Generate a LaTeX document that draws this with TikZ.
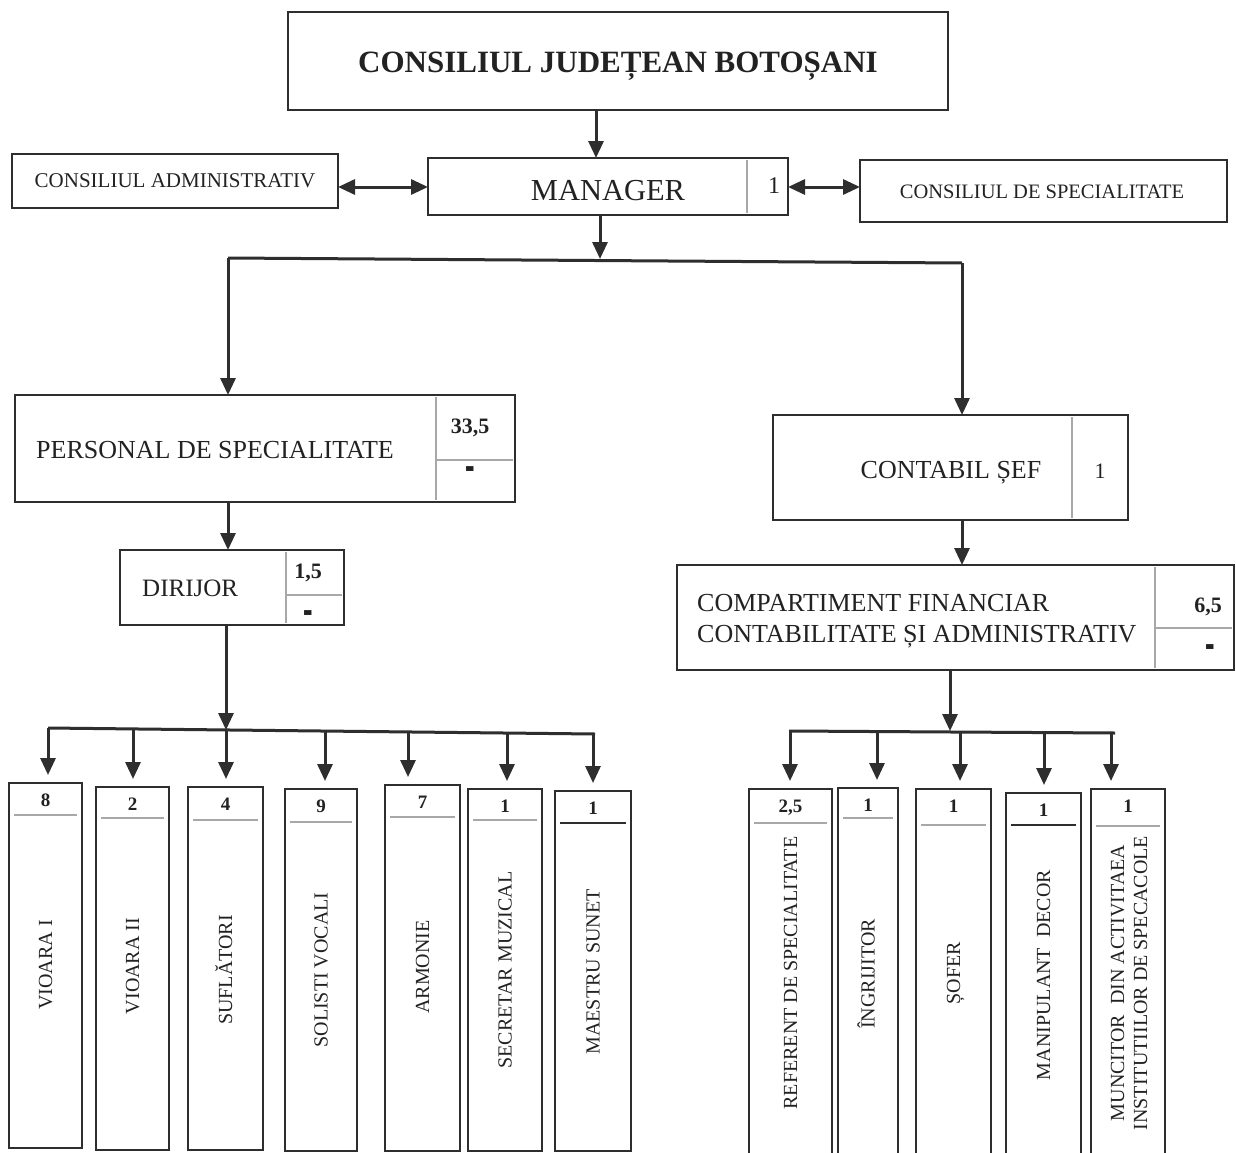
\documentclass[tikz,border=0pt]{standalone}
\usepackage{fontspec}
\setmainfont{Liberation Serif}
\usetikzlibrary{arrows.meta}
\definecolor{ink}{HTML}{2E2E2E}
\definecolor{txt}{HTML}{222222}
\definecolor{sepc}{HTML}{A8A8A8}
\newcommand\fsz[1]{\fontsize{#1}{#1}\selectfont}
\newcommand\bx[5]{\node[box,anchor=north west,minimum width={#4pt-#2pt},minimum height={#5pt-#3pt}] (#1) at (#2,#3) {};}
\newcommand\cell[9]{%
  \bx{#1}{#2}{#3}{#4}{#5}
  \node[num] (#1n) at ({(#2+#4)/2},#3+17) {#6};
  \draw[sep] (#2+5,#7) -- (#4-5,#7);
  \node[vlbl] (#1t) at ({(#2+#4)/2},#9) {#8};
}
\newcommand\dashmk{\scalebox{1.1}[2.2]{\bfseries -}}
\tikzset{
  box/.style={draw=ink,line width=2.6pt,inner sep=0pt,outer sep=0pt,fill=white},
  lbl/.style={text=txt,inner sep=0pt,font=\fsz{#1},text height={0.66*#1pt},text depth=0pt},
  blbl/.style={lbl=#1,font=\bfseries\fsz{#1}},
  vlbl/.style={lbl=20,rotate=90},
  num/.style={blbl=19},
  arr/.style={draw=ink,line width=3pt,-{Triangle[width=15pt,length=17pt]}},
  garr/.style={arr,shorten >=8pt},
  darr/.style={draw=ink,line width=3pt,{Triangle[width=15pt,length=17pt]}-{Triangle[width=15pt,length=17pt]}},
  bar/.style={draw=ink,line width=3pt},
  sep/.style={draw=sepc,line width=1.3pt},
}
\begin{document}
\begin{tikzpicture}[x=1pt,y=-1pt]
\useasboundingbox[fill=white] (0,0) rectangle (1236,1153);

% main boxes
\bx{top}{288}{12}{948}{110}
\node[blbl=31] (topt) at (618,62) {CONSILIUL JUDEȚEAN BOTOȘANI};

\bx{man}{428}{158}{788}{215}
\draw[sep] (747,160) -- (747,213);
\node[lbl=30.5] (mant) at (608,190) {MANAGER};
\node[lbl=24] (mann) at (774,186) {1};

\bx{ca}{12}{154}{338}{208}
\node[lbl=21] (cat) at (175,181) {CONSILIUL ADMINISTRATIV};

\bx{cs}{860}{160}{1227}{222}
\node[lbl=20.5] (cst) at (1042,192) {CONSILIUL DE SPECIALITATE};

\bx{ps}{15}{395}{515}{502}
\draw[sep] (436,397) -- (436,500);
\draw[sep] (436,460) -- (513,460);
\node[lbl=26,anchor=west] (pst) at (36,450) {PERSONAL DE SPECIALITATE};
\node[blbl=22] (psn) at (470,426) {33,5};
\node[lbl=26] (psd) at (470,474) {\dashmk};

\bx{dir}{120}{550}{344}{625}
\draw[sep] (286,552) -- (286,623);
\draw[sep] (286,595) -- (342,595);
\node[lbl=25,anchor=west] (dirt) at (142,588) {DIRIJOR};
\node[blbl=22] (dirn) at (308,571) {1,5};
\node[lbl=26] (dird) at (308,618) {\dashmk};

\bx{sef}{773}{415}{1128}{520}
\draw[sep] (1072,417) -- (1072,518);
\node[lbl=26] (seft) at (951,470) {CONTABIL ȘEF};
\node[lbl=22] (sefn) at (1100,471) {1};

\bx{comp}{677}{565}{1234}{670}
\draw[sep] (1155,567) -- (1155,668);
\draw[sep] (1155,628) -- (1232,628);
\node[text=txt,inner sep=0pt,font=\fsz{26},align=left,anchor=west] (compt) at (697,621) {COMPARTIMENT FINANCIAR\\[5pt]CONTABILITATE ȘI ADMINISTRATIV};
\node[blbl=22] (compn) at (1208,605) {6,5};
\node[lbl=26] (compd) at (1210,652) {\dashmk};

% bottom left cells
\cell{v1}{9}{783}{82}{1148}{8}{815}{VIOARA I}{965}
\cell{v2}{96}{787}{169}{1150}{2}{818}{VIOARA II}{966}
\cell{v3}{188}{787}{263}{1150}{4}{820}{SUFLĂTORI}{970}
\cell{v4}{285}{789}{357}{1151}{9}{822}{SOLISTI VOCALI}{970}
\cell{v5}{385}{785}{460}{1151}{7}{817}{ARMONIE}{967}
\cell{v6}{468}{789}{542}{1151}{1}{820}{SECRETAR MUZICAL}{970}
\cell{v7}{555}{791}{631}{1151}{1}{823}{MAESTRU SUNET}{972}
\draw[draw=ink,line width=1.6pt] (560,823) -- (626,823);

% bottom right cells
\cell{r1}{749}{789}{832}{1162}{2,5}{823}{REFERENT DE SPECIALITATE}{973}
\cell{r2}{838}{788}{898}{1162}{1}{818}{ÎNGRIJITOR}{974}
\cell{r3}{916}{789}{991}{1162}{1}{825}{ȘOFER}{973}
\cell{r4}{1006}{793}{1081}{1162}{1}{825}{MANIPULANT\ \ DECOR}{975}
\draw[draw=ink,line width=1.6pt] (1011,825) -- (1076,825);
\cell{r5}{1091}{789}{1165}{1162}{1}{826}{}{980}
\node[text=txt,inner sep=0pt,rotate=90,font=\fsz{20},align=center] (r5l) at (1129,983) {MUNCITOR\ \ DIN ACTIVITAEA\\[3pt]INSTITUTIILOR DE SPECACOLE};

% connectors top
\draw[arr] (596,0 |- top.south) -- (596,0 |- man.north);
\draw[darr] (ca.east |- 0,187) -- (man.west |- 0,187);
\draw[darr] (man.east |- 0,187) -- (cs.west |- 0,187);

\coordinate (j1) at (600,259);
\coordinate (jl) at (228,258);
\coordinate (jr) at (962,263);
\draw[arr] (600,0 |- man.south) -- (j1);
\draw[bar] (jl) -- (jr);
\draw[arr] (jl) -- (jl |- ps.north);
\draw[arr] (jr) -- (jr |- sef.north);

\draw[arr] (228,0 |- ps.south) -- (228,0 |- dir.north);
\draw[arr] (962,0 |- sef.south) -- (962,0 |- comp.north);

% left branch
\coordinate (bl1) at (48,728);
\coordinate (bl2) at (595,734);
\draw[arr] (226,0 |- dir.south) -- (226,730);
\draw[bar] (bl1) -- (bl2);
\draw[garr] (48,728) -- (48,0 |- v1.north);
\draw[garr] (133,729) -- (133,0 |- v2.north);
\draw[garr] (226,730) -- (226,0 |- v3.north);
\draw[garr] (325,731) -- (325,0 |- v4.north);
\draw[garr] (408,732) -- (408,0 |- v5.north);
\draw[garr] (507,733) -- (507,0 |- v6.north);
\draw[garr] (593,734) -- (593,0 |- v7.north);

% right branch
\coordinate (br1) at (789,731);
\coordinate (br2) at (1115,733);
\draw[arr] (950,0 |- comp.south) -- (950,731);
\draw[bar] (br1) -- (br2);
\draw[garr] (790,731) -- (790,0 |- r1.north);
\draw[garr] (877,732) -- (877,0 |- r2.north);
\draw[garr] (960,732) -- (960,0 |- r3.north);
\draw[garr] (1044,733) -- (1044,0 |- r4.north);
\draw[garr] (1111,733) -- (1111,0 |- r5.north);
\end{tikzpicture}
\end{document}
